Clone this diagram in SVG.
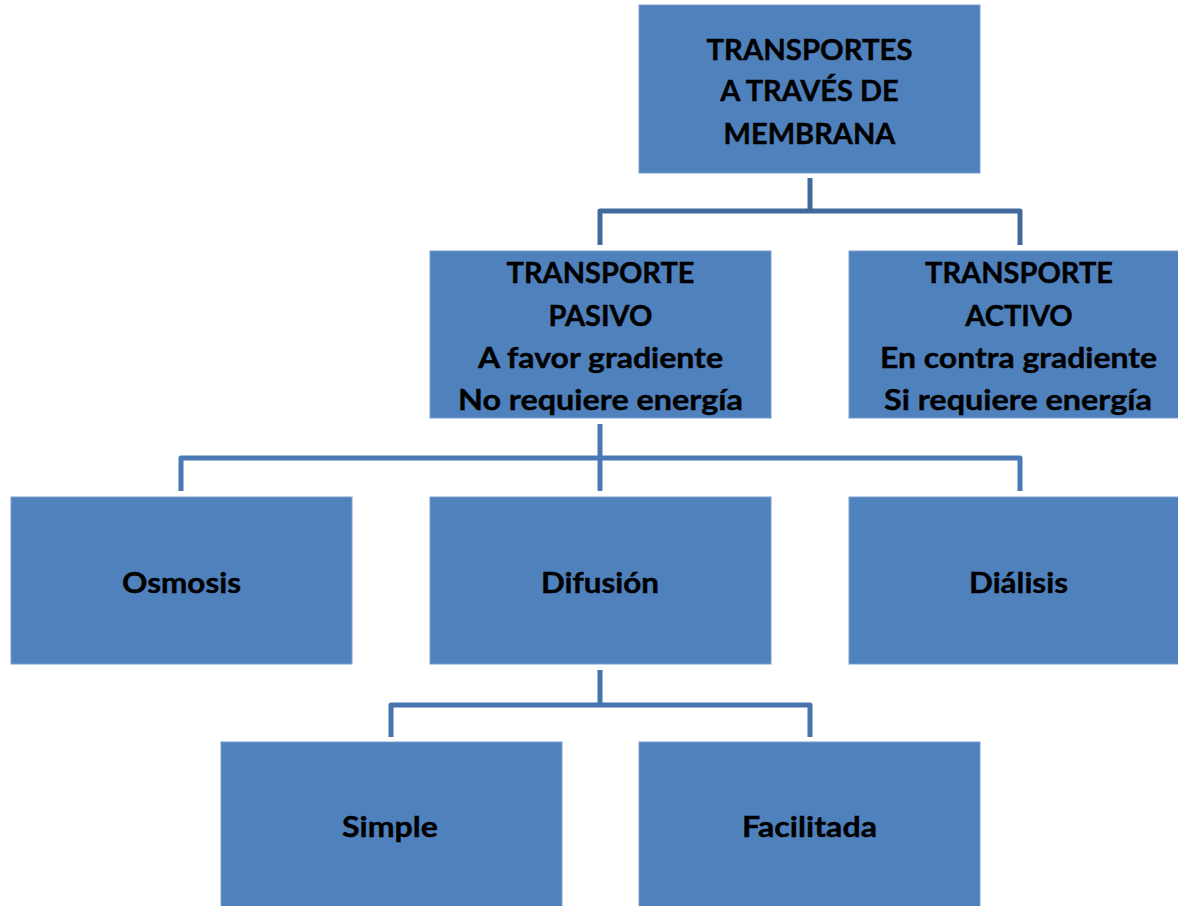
<svg xmlns="http://www.w3.org/2000/svg" width="1178" height="906" viewBox="0 0 1178 906">
  <style>
    .box { fill: #4f81bd; stroke: #7a9fd0; stroke-width: 1; }
    .lbl { font-family: Lato, "Liberation Sans", sans-serif; font-weight: 700; font-size: 29px; fill: #000; stroke: #000; stroke-width: 0.4; text-anchor: middle; }
    .conn { fill: none; stroke-width: 5; stroke-linejoin: round; }
  </style>
  <rect width="1178" height="906" fill="#ffffff"/>

  <!-- connectors -->
  <g id="connectors">
    <path class="conn" stroke="#41699b" d="M810,178 V211 M600,245 V211 H1020 V245"/>
    <path class="conn" stroke="#4a79b4" d="M600,424 V491 M181,491 V458 H1020 V491"/>
    <path class="conn" stroke="#4674ad" d="M600,670 V705 M391,737 V705 H810 V737"/>
  </g>

  <g id="root">
    <rect class="box" x="639" y="5" width="341" height="168"/>
    <text class="lbl" x="809.5" y="60" textLength="206" lengthAdjust="spacingAndGlyphs">TRANSPORTES</text>
    <text class="lbl" x="809.5" y="101">A TRAVÉS DE</text>
    <text class="lbl" x="809.5" y="144">MEMBRANA</text>
  </g>

  <g id="pasivo">
    <rect class="box" x="430" y="251" width="341" height="167"/>
    <text class="lbl" x="600.5" y="283">TRANSPORTE</text>
    <text class="lbl" x="600.5" y="326">PASIVO</text>
    <text class="lbl" x="600.5" y="368" textLength="245" lengthAdjust="spacingAndGlyphs">A favor gradiente</text>
    <text class="lbl" x="600.5" y="410" textLength="285" lengthAdjust="spacingAndGlyphs">No requiere energía</text>
  </g>

  <g id="activo">
    <rect class="box" x="849" y="251" width="341" height="167"/>
    <text class="lbl" x="1019" y="283">TRANSPORTE</text>
    <text class="lbl" x="1019" y="326">ACTIVO</text>
    <text class="lbl" x="1018.5" y="368" textLength="277" lengthAdjust="spacingAndGlyphs">En contra gradiente</text>
    <text class="lbl" x="1018" y="410" textLength="268" lengthAdjust="spacingAndGlyphs">Si requiere energía</text>
  </g>

  <g id="osmosis">
    <rect class="box" x="11" y="497" width="341" height="167"/>
    <text class="lbl" x="181.5" y="593" textLength="119" lengthAdjust="spacingAndGlyphs">Osmosis</text>
  </g>

  <g id="difusion">
    <rect class="box" x="430" y="497" width="341" height="167"/>
    <text class="lbl" x="600" y="593" textLength="118" lengthAdjust="spacingAndGlyphs">Difusión</text>
  </g>

  <g id="dialisis">
    <rect class="box" x="849" y="497" width="341" height="167"/>
    <text class="lbl" x="1018.5" y="593" textLength="99" lengthAdjust="spacingAndGlyphs">Diálisis</text>
  </g>

  <g id="simple">
    <rect class="box" x="221" y="742" width="341" height="170"/>
    <text class="lbl" x="390" y="837" textLength="96" lengthAdjust="spacingAndGlyphs">Simple</text>
  </g>

  <g id="facilitada">
    <rect class="box" x="639" y="742" width="341" height="170"/>
    <text class="lbl" x="809.5" y="837" textLength="135" lengthAdjust="spacingAndGlyphs">Facilitada</text>
  </g>
</svg>
